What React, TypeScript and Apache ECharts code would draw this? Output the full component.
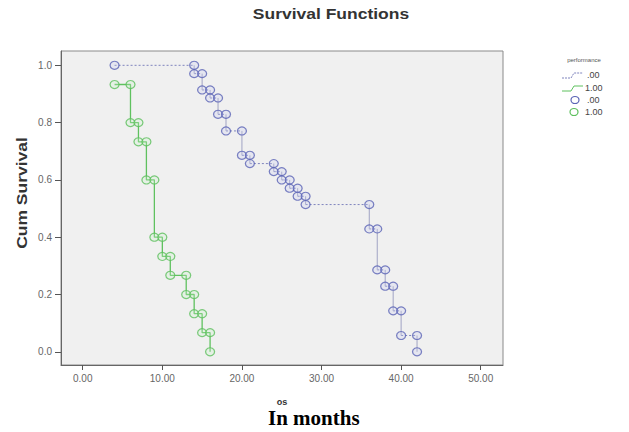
import React, { useEffect, useRef } from "react";
import * as echarts from "echarts";

// Kaplan-Meier data (time in months, cumulative survival after each step)
const blueTimes = [4, 14, 15, 16, 17, 18, 20, 21, 24, 25, 26, 27, 28, 36, 37, 38, 39, 40, 42];
const blueSurv = [1.0, 0.971, 0.914, 0.886, 0.829, 0.771, 0.686, 0.657, 0.629, 0.6, 0.571, 0.543, 0.514, 0.429, 0.286, 0.229, 0.143, 0.057, 0.0];
const greenTimes = [4, 6, 7, 8, 9, 10, 11, 13, 14, 15, 16];
const greenSurv = [0.933, 0.8, 0.733, 0.6, 0.4, 0.333, 0.267, 0.2, 0.133, 0.067, 0.0];

const xTicks = [0, 10, 20, 30, 40, 50];
const yTicks = [0, 0.2, 0.4, 0.6, 0.8, 1.0];

const legendTitle = "performance";
const groupNames = [".00", "1.00"];

const BLUE_LINE = "#7f84bd";
const BLUE_MARK = "#5a63b5";
const GREEN_LINE = "#5fc15f";
const GREEN_MARK = "#5cbf5c";

function corners(t: number[], s: number[]) {
  const pts: (number[])[] = [[t[0], s[0]]];
  for (let i = 1; i < t.length; i++) {
    pts.push([t[i], s[i - 1]]);
    pts.push([t[i], s[i]]);
  }
  return pts;
}
function horizontals(t: number[], s: number[]) {
  const pts: any[] = [];
  for (let i = 1; i < t.length; i++) {
    pts.push([t[i - 1], s[i - 1]], [t[i], s[i - 1]], "-");
  }
  return pts;
}
function verticals(t: number[], s: number[]) {
  const pts: any[] = [];
  for (let i = 1; i < t.length; i++) {
    pts.push([t[i], s[i - 1]], [t[i], s[i]], "-");
  }
  return pts;
}

export default function App() {
  const ref = useRef<HTMLDivElement>(null);
  useEffect(() => {
    if (!ref.current) return;
    const chart = echarts.init(ref.current, null, { renderer: "svg" });
    const sans = '"Liberation Sans", Arial, sans-serif';
    const option: any = {
      animation: false,
      backgroundColor: "#ffffff",
      grid: {
        left: 61,
        top: 51,
        right: 126,
        bottom: 67,
        show: true,
        backgroundColor: "#f0f0f0",
        borderColor: "#8a8a8a",
        borderWidth: 1,
      },
      xAxis: {
        type: "value",
        min: -2.73,
        max: 52.8,
        axisLine: { show: true, onZero: false, lineStyle: { color: "#666", width: 1 } },
        axisTick: { show: true, length: 5, customValues: xTicks, lineStyle: { color: "#555" } },
        axisLabel: {
          customValues: xTicks,
          formatter: (v: number) => v.toFixed(2),
          color: "#666",
          fontSize: 10,
          fontFamily: sans,
          margin: 8,
        },
        splitLine: { show: false },
      },
      yAxis: {
        type: "value",
        min: -0.046,
        max: 1.05,
        axisLine: { show: true, onZero: false, lineStyle: { color: "#666", width: 1 } },
        axisTick: { show: true, length: 6, customValues: yTicks, lineStyle: { color: "#555" } },
        axisLabel: {
          customValues: yTicks,
          formatter: (v: number) => v.toFixed(1),
          color: "#666",
          fontSize: 10,
          fontFamily: sans,
          margin: 9,
        },
        splitLine: { show: false },
      },
      series: [
        {
          type: "line",
          data: horizontals(blueTimes, blueSurv),
          showSymbol: false,
          connectNulls: false,
          lineStyle: { color: BLUE_LINE, width: 1, type: [2, 2] },
          z: 2,
        },
        {
          type: "line",
          data: verticals(blueTimes, blueSurv),
          showSymbol: false,
          connectNulls: false,
          lineStyle: { color: "#a0a3c4", width: 1 },
          z: 2,
        },
        {
          type: "line",
          data: corners(greenTimes, greenSurv),
          showSymbol: false,
          lineStyle: { color: GREEN_LINE, width: 1.3 },
          z: 2,
        },
        {
          type: "scatter",
          data: corners(blueTimes, blueSurv),
          symbol: "circle",
          symbolSize: [9, 8],
          itemStyle: { color: "rgba(200,205,240,0.35)", borderColor: BLUE_MARK, borderWidth: 1.2 },
          z: 3,
        },
        {
          type: "scatter",
          data: corners(greenTimes, greenSurv),
          symbol: "circle",
          symbolSize: [9, 8],
          itemStyle: { color: "rgba(200,240,200,0.35)", borderColor: GREEN_MARK, borderWidth: 1.2 },
          z: 3,
        },
      ],
      graphic: [
        {
          type: "text",
          x: 331,
          y: 14,
          scaleX: 1.25,
          style: { text: "Survival Functions", font: `bold 14px ${sans}`, fill: "#333", align: "center", verticalAlign: "middle" },
        },
        {
          type: "text",
          x: 22,
          y: 193,
          rotation: Math.PI / 2,
          scaleX: 1.25,
          style: { text: "Cum Survival", font: `bold 14px ${sans}`, fill: "#333", align: "center", verticalAlign: "middle" },
        },
        {
          type: "text",
          x: 282,
          y: 402,
          style: { text: "os", font: `bold 9px ${sans}`, fill: "#333", align: "center", verticalAlign: "middle" },
        },
        {
          type: "text",
          x: 268,
          y: 418,
          style: { text: "In months", font: 'bold 21px "Liberation Serif", "Times New Roman", serif', fill: "#000", align: "left", verticalAlign: "middle" },
        },
        // legend
        {
          type: "text",
          x: 584,
          y: 60,
          style: { text: legendTitle, font: `6px ${sans}`, fill: "#555", align: "center", verticalAlign: "middle" },
        },
        {
          type: "polyline",
          shape: { points: [[562, 78], [571, 78], [574, 73], [583, 73]] },
          style: { stroke: BLUE_LINE, lineWidth: 1, lineDash: [2, 1], fill: null },
        },
        {
          type: "text",
          x: 587,
          y: 75,
          style: { text: groupNames[0], font: `9px ${sans}`, fill: "#444", align: "left", verticalAlign: "middle" },
        },
        {
          type: "polyline",
          shape: { points: [[562, 91], [571, 91], [574, 86], [583, 86]] },
          style: { stroke: GREEN_LINE, lineWidth: 1, fill: null },
        },
        {
          type: "text",
          x: 585,
          y: 88,
          style: { text: groupNames[1], font: `9px ${sans}`, fill: "#444", align: "left", verticalAlign: "middle" },
        },
        {
          type: "ellipse",
          shape: { cx: 575, cy: 100, rx: 4, ry: 3.5 },
          style: { stroke: BLUE_MARK, lineWidth: 1.2, fill: "none" },
        },
        {
          type: "text",
          x: 587,
          y: 100,
          style: { text: groupNames[0], font: `9px ${sans}`, fill: "#444", align: "left", verticalAlign: "middle" },
        },
        {
          type: "ellipse",
          shape: { cx: 574, cy: 112, rx: 4, ry: 3.5 },
          style: { stroke: GREEN_MARK, lineWidth: 1.2, fill: "none" },
        },
        {
          type: "text",
          x: 585,
          y: 112,
          style: { text: groupNames[1], font: `9px ${sans}`, fill: "#444", align: "left", verticalAlign: "middle" },
        },
      ],
    };
    chart.setOption(option);
    return () => chart.dispose();
  }, []);
  return (
    <div
      ref={ref}
      style={{ position: "fixed", left: 0, top: 0, width: 629, height: 432, background: "#fff" }}
    />
  );
}
